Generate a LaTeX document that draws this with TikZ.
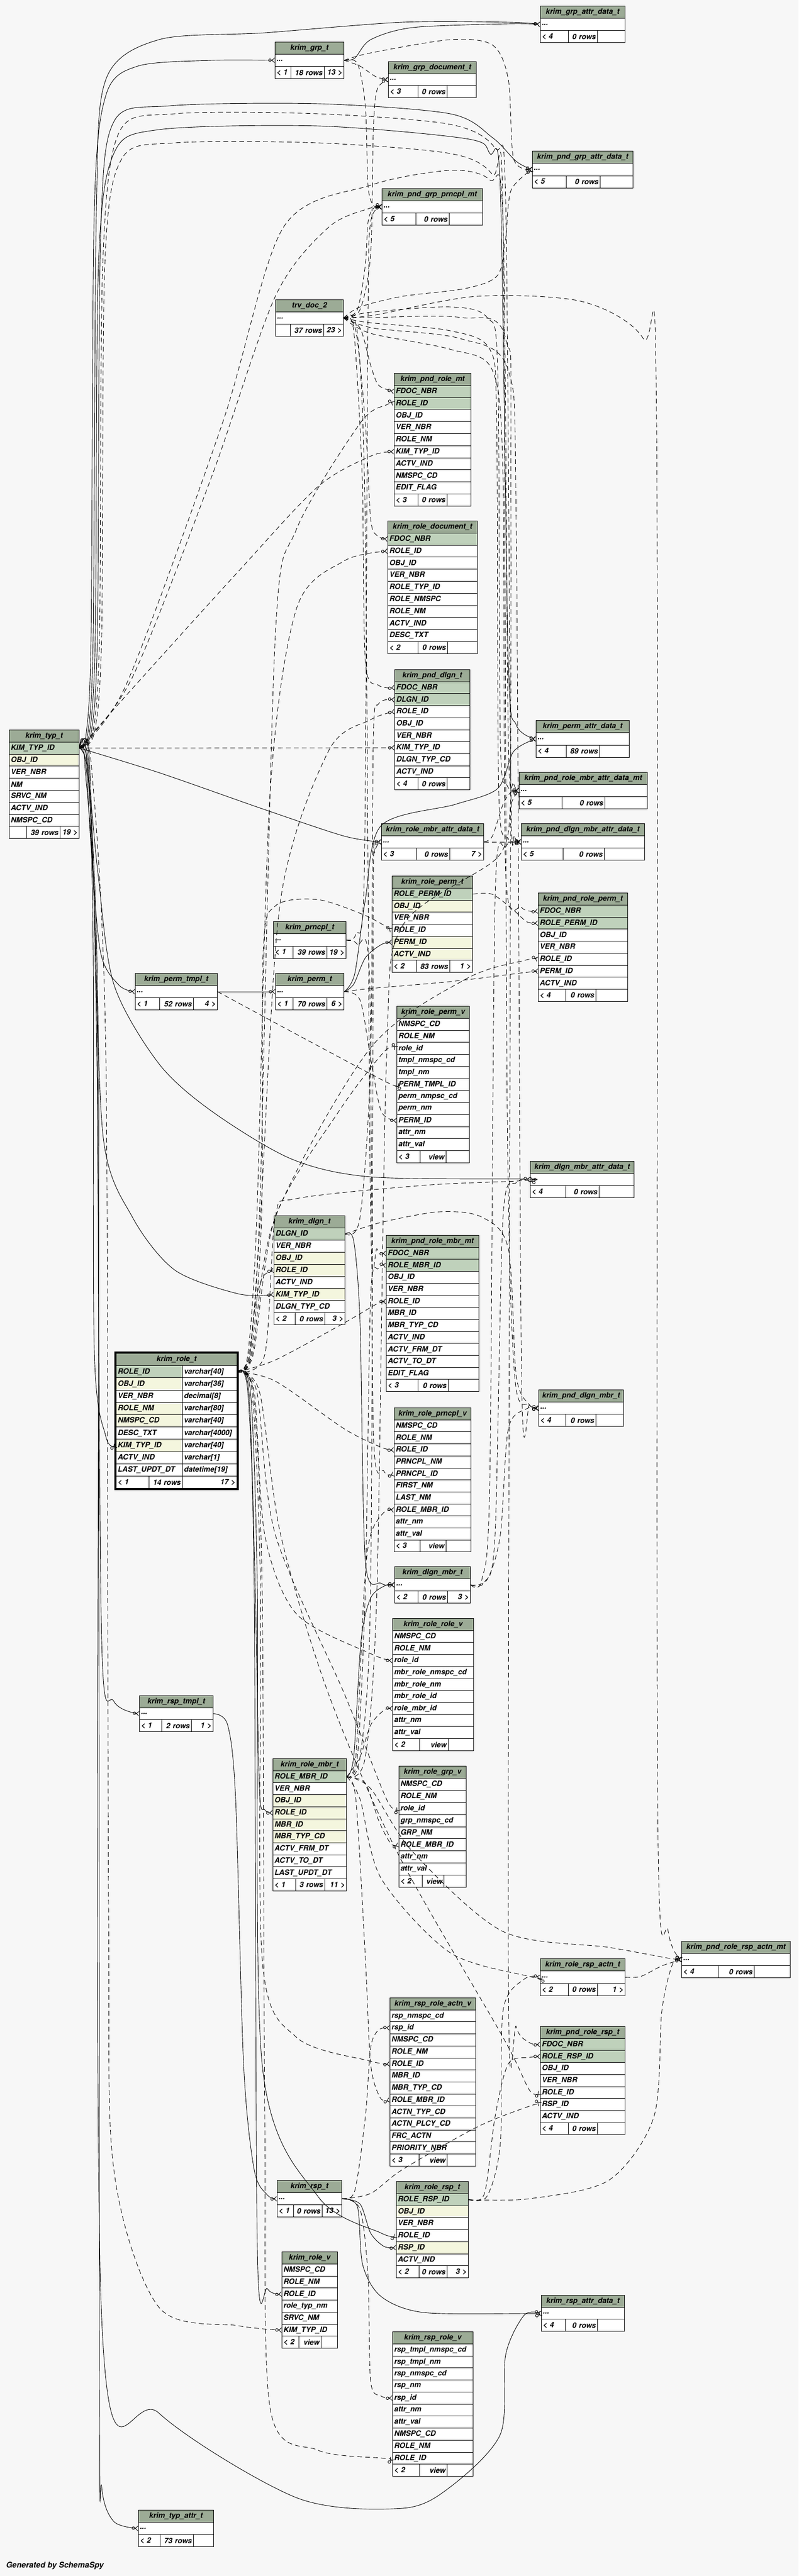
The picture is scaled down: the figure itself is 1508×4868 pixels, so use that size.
\documentclass[tikz,border=0pt]{standalone}
\usepackage{fontspec}
\setmainfont{TeX Gyre Heros}
\usetikzlibrary{arrows.meta,fit}
\hyphenpenalty=10000
\exhyphenpenalty=10000
\definecolor{bgc}{HTML}{F7F7F7}
\definecolor{hdr}{HTML}{9CAB96}
\definecolor{pk}{HTML}{BFD1BB}
\definecolor{ix}{HTML}{F4F6DE}
\colorlet{wh}{white}
\newcommand\ddd{...}
\tikzset{
  tbox/.style={draw=black, line width=1pt, inner xsep=3pt, inner ysep=0pt, anchor=north west},
  hdrbox/.style={tbox, fill=hdr, align=center},
  fk/.style={line width=0.9pt, -{Circle[open,length=6pt,width=6pt,line width=0.9pt]Straight Barb[reversed,length=5pt,width=9pt,line width=0.9pt]}},
  fkd/.style={fk, dash pattern=on 9pt off 6pt},
}
\newcommand\dbt[7]{%
  \def\dbxa{#2}\def\dbxb{#3}\def\dbyt{#4}\def\dbrh{#5}%
  \pgfmathsetmacro\dbtw{#3-#2-6}%
  \node[hdrbox, text width=\dbtw pt, minimum height=#5pt] (#1) at (#2,#4) {\mbox{#6}};
  \foreach \rk/\rt [count=\ri] in {#7} {%
    \pgfmathsetmacro\yy{#4+#5*\ri}%
    \node[tbox, fill=\rk, text width=\dbtw pt, minimum height=#5pt, align=left] (#1-\ri) at (#2,\yy) {\mbox{\rt}};
    \xdef\dbn{\ri}%
  }%
}
\newcommand\dbf[6]{%
  \pgfmathsetmacro\fy{\dbyt+\dbrh*(\dbn+1)}%
  \pgfmathsetmacro\ta{#2-\dbxa-6}%
  \pgfmathsetmacro\tb{#3-#2-6}%
  \pgfmathsetmacro\tc{\dbxb-#3-6}%
  \node[tbox, fill=white, minimum height=\dbrh pt, text width=\ta pt, align=left] (#1-f1) at (\dbxa,\fy) {\mbox{#4}};
  \node[tbox, fill=white, minimum height=\dbrh pt, text width=\tb pt, align=right] (#1-f2) at (#2,\fy) {\mbox{#5}};
  \node[tbox, fill=white, minimum height=\dbrh pt, text width=\tc pt, align=right] (#1-f3) at (#3,\fy) {\mbox{#6}};
}
\newcommand\fe[2][fk]{\draw[#1] plot[smooth,tension=0.5] coordinates {#2};}
\begin{document}
\begin{tikzpicture}[x=1pt,y=-1pt,font=\fontsize{14}{16}\selectfont\bfseries\itshape]
\useasboundingbox (0,0) rectangle (1508,4868);
\fill[bgc] (0,0) rectangle (1508,4868);

% ---------------- tables ----------------
\dbt{grp}{519}{649}{79}{23}{krim\_grp\_t}{wh/\ddd}
\dbf{grp}{549}{612}{< 1}{18 rows}{13 >}
\dbt{grpdoc}{733}{899}{116}{22.7}{krim\_grp\_document\_t}{wh/\ddd}
\dbf{grpdoc}{789}{844}{< 3}{0 rows}{}
\dbt{grpattr}{1020}{1180}{11}{23}{krim\_grp\_attr\_data\_t}{wh/\ddd}
\dbf{grpattr}{1073}{1128}{< 4}{0 rows}{}
\dbt{pgattr}{1005}{1195}{285}{23.3}{krim\_pnd\_grp\_attr\_data\_t}{wh/\ddd}
\dbf{pgattr}{1069}{1133}{< 5}{0 rows}{}
\dbt{pgprn}{721}{911}{356}{23}{krim\_pnd\_grp\_prncpl\_mt}{wh/\ddd}
\dbf{pgprn}{785}{848}{< 5}{0 rows}{}
\dbt{doc}{520}{648}{566}{23}{trv\_doc\_2}{wh/\ddd}
\dbf{doc}{548}{611}{}{37 rows}{23 >}
\dbt{prm}{744}{889}{705}{22.8}{krim\_pnd\_role\_mt}{pk/FDOC\_NBR, pk/ROLE\_ID, wh/OBJ\_ID, wh/VER\_NBR, wh/ROLE\_NM, wh/KIM\_TYP\_ID, wh/ACTV\_IND, wh/NMSPC\_CD, wh/EDIT\_FLAG}
\dbf{prm}{789}{844}{< 3}{0 rows}{}
\dbt{rdoc}{732}{901}{984}{22.8}{krim\_role\_document\_t}{pk/FDOC\_NBR, wh/ROLE\_ID, wh/OBJ\_ID, wh/VER\_NBR, wh/ROLE\_TYP\_ID, wh/ROLE\_NMSPC, wh/ROLE\_NM, wh/ACTV\_IND, wh/DESC\_TXT}
\dbf{rdoc}{789}{845}{< 2}{0 rows}{}
\dbt{pdlgn}{745}{887}{1265}{22.7}{krim\_pnd\_dlgn\_t}{pk/FDOC\_NBR, pk/DLGN\_ID, wh/ROLE\_ID, wh/OBJ\_ID, wh/VER\_NBR, wh/KIM\_TYP\_ID, wh/DLGN\_TYP\_CD, wh/ACTV\_IND}
\dbf{pdlgn}{789}{844}{< 4}{0 rows}{}
\dbt{permattr}{1012}{1188}{1361}{23.3}{krim\_perm\_attr\_data\_t}{wh/\ddd}
\dbf{permattr}{1069}{1132}{< 4}{89 rows}{}
\dbt{prmattr}{980}{1222}{1459}{23}{krim\_pnd\_role\_mbr\_attr\_data\_mt}{wh/\ddd}
\dbf{prmattr}{1061}{1142}{< 5}{0 rows}{}
\dbt{rmattr}{720}{913}{1556}{23}{krim\_role\_mbr\_attr\_data\_t}{wh/\ddd}
\dbf{rmattr}{786}{849}{< 3}{0 rows}{7 >}
\dbt{pdmattr}{984}{1217}{1556}{23}{krim\_pnd\_dlgn\_mbr\_attr\_data\_t}{wh/\ddd}
\dbf{pdmattr}{1063}{1141}{< 5}{0 rows}{}
\dbt{typ}{17}{149}{1379}{22.8}{krim\_typ\_t}{pk/KIM\_TYP\_ID, ix/OBJ\_ID, wh/VER\_NBR, wh/NM, wh/SRVC\_NM, wh/ACTV\_IND, wh/NMSPC\_CD}
\dbf{typ}{50}{113}{}{39 rows}{19 >}
\dbt{rperm}{740}{892}{1655}{22.75}{krim\_role\_perm\_t}{pk/ROLE\_PERM\_ID, ix/OBJ\_ID, wh/VER\_NBR, wh/ROLE\_ID, ix/PERM\_ID, ix/ACTV\_IND}
\dbf{rperm}{786}{849}{< 2}{83 rows}{1 >}
\dbt{prperm}{1016}{1185}{1687}{22.75}{krim\_pnd\_role\_perm\_t}{pk/FDOC\_NBR, pk/ROLE\_PERM\_ID, wh/OBJ\_ID, wh/VER\_NBR, wh/ROLE\_ID, wh/PERM\_ID, wh/ACTV\_IND}
\dbf{prperm}{1068}{1125}{< 4}{0 rows}{}
\dbt{prncpl}{516}{653}{1741}{23.3}{krim\_prncpl\_t}{wh/\ddd}
\dbf{prncpl}{553}{617}{< 1}{39 rows}{19 >}
\dbt{ptmpl}{255}{410}{1839}{23}{krim\_perm\_tmpl\_t}{wh/\ddd}
\dbf{ptmpl}{301}{365}{< 1}{52 rows}{4 >}
\dbt{perm}{520}{649}{1839}{23}{krim\_perm\_t}{wh/\ddd}
\dbf{perm}{553}{617}{< 1}{70 rows}{6 >}
\dbt{rpermv}{749}{886}{1901}{22.75}{krim\_role\_perm\_v}{wh/NMSPC\_CD, wh/ROLE\_NM, wh/role\_id, wh/tmpl\_nmspc\_cd, wh/tmpl\_nm, wh/PERM\_TMPL\_ID, wh/perm\_nmpsc\_cd, wh/perm\_nm, wh/PERM\_ID, wh/attr\_nm, wh/attr\_val}
\dbf{rpermv}{793}{842}{< 3}{view}{}
\dbt{dmattr}{1001}{1197}{2194}{23}{krim\_dlgn\_mbr\_attr\_data\_t}{wh/\ddd}
\dbf{dmattr}{1068}{1131}{< 4}{0 rows}{}
\dbt{dlgn}{517}{651}{2297}{22.9}{krim\_dlgn\_t}{pk/DLGN\_ID, wh/VER\_NBR, ix/OBJ\_ID, ix/ROLE\_ID, wh/ACTV\_IND, ix/KIM\_TYP\_ID, wh/DLGN\_TYP\_CD}
\dbf{dlgn}{557}{613}{< 2}{0 rows}{3 >}
\dbt{prmbr}{729}{904}{2334}{22.7}{krim\_pnd\_role\_mbr\_mt}{pk/FDOC\_NBR, pk/ROLE\_MBR\_ID, wh/OBJ\_ID, wh/VER\_NBR, wh/ROLE\_ID, wh/MBR\_ID, wh/MBR\_TYP\_CD, wh/ACTV\_IND, wh/ACTV\_FRM\_DT, wh/ACTV\_TO\_DT, wh/EDIT\_FLAG}
\dbf{prmbr}{789}{846}{< 3}{0 rows}{}
% krim_role_t (focus table)
\dbt{role}{219}{447}{2557}{23.2}{krim\_role\_t}{pk/ROLE\_ID, ix/OBJ\_ID, wh/VER\_NBR, ix/ROLE\_NM, ix/NMSPC\_CD, wh/DESC\_TXT, ix/KIM\_TYP\_ID, wh/ACTV\_IND, wh/LAST\_UPDT\_DT}
\foreach \ty [count=\ri] in {varchar[40], varchar[36], decimal[8], varchar[80], varchar[40], varchar[4000], varchar[40], varchar[1], datetime[19]} {
  \pgfmathsetmacro\yy{2557+23.2*\ri}
  \node[tbox, fill=white, text width=97pt, minimum height=23.2pt, align=left] (role-t\ri) at (344,\yy) {\mbox{\ty}};
}
\dbf{role}{281}{344}{< 1}{14 rows}{17 >}
\node[draw, line width=3pt, fit=(role)(role-f1)(role-f3), inner sep=1.5pt] (rolebox) {};
\dbt{pdmbr}{1017}{1177}{2626}{23}{krim\_pnd\_dlgn\_mbr\_t}{wh/\ddd}
\dbf{pdmbr}{1068}{1125}{< 4}{0 rows}{}
\dbt{rprnv}{744}{889}{2660}{22.7}{krim\_role\_prncpl\_v}{wh/NMSPC\_CD, wh/ROLE\_NM, wh/ROLE\_ID, wh/PRNCPL\_NM, wh/PRNCPL\_ID, wh/FIRST\_NM, wh/LAST\_NM, wh/ROLE\_MBR\_ID, wh/attr\_nm, wh/attr\_val}
\dbf{rprnv}{793}{842}{< 3}{view}{}
\dbt{dmbr}{745}{888}{2960}{23}{krim\_dlgn\_mbr\_t}{wh/\ddd}
\dbf{dmbr}{789}{845}{< 2}{0 rows}{3 >}
\dbt{rrolev}{741}{894}{3058}{22.7}{krim\_role\_role\_v}{wh/NMSPC\_CD, wh/ROLE\_NM, wh/role\_id, wh/mbr\_role\_nmspc\_cd, wh/mbr\_role\_nm, wh/mbr\_role\_id, wh/role\_mbr\_id, wh/attr\_nm, wh/attr\_val}
\dbf{rrolev}{792}{846}{< 2}{view}{}
\dbt{rsptmpl}{263}{402}{3204}{22.7}{krim\_rsp\_tmpl\_t}{wh/\ddd}
\dbf{rsptmpl}{305}{361}{< 1}{2 rows}{1 >}
\dbt{rmbr}{515}{654}{3323}{22.7}{krim\_role\_mbr\_t}{pk/ROLE\_MBR\_ID, wh/VER\_NBR, ix/OBJ\_ID, ix/ROLE\_ID, ix/MBR\_ID, ix/MBR\_TYP\_CD, wh/ACTV\_FRM\_DT, wh/ACTV\_TO\_DT, wh/LAST\_UPDT\_DT}
\dbf{rmbr}{558}{613}{< 1}{3 rows}{11 >}
\dbt{rgrpv}{753}{880}{3337}{22.9}{krim\_role\_grp\_v}{wh/NMSPC\_CD, wh/ROLE\_NM, wh/role\_id, wh/grp\_nmspc\_cd, wh/GRP\_NM, wh/ROLE\_MBR\_ID, wh/attr\_nm, wh/attr\_val}
\dbf{rgrpv}{797}{838}{< 2}{view}{}
\dbt{prractn}{1287}{1492}{3668}{23}{krim\_pnd\_role\_rsp\_actn\_mt}{wh/\ddd}
\dbf{prractn}{1356}{1424}{< 4}{0 rows}{}
\dbt{rractn}{1020}{1180}{3701}{23.3}{krim\_role\_rsp\_actn\_t}{wh/\ddd}
\dbf{rractn}{1073}{1128}{< 2}{0 rows}{1 >}
\dbt{rraview}{736}{898}{3775}{22.7}{krim\_rsp\_role\_actn\_v}{wh/rsp\_nmspc\_cd, wh/rsp\_id, wh/NMSPC\_CD, wh/ROLE\_NM, wh/ROLE\_ID, wh/MBR\_ID, wh/MBR\_TYP\_CD, wh/ROLE\_MBR\_ID, wh/ACTN\_TYP\_CD, wh/ACTN\_PLCY\_CD, wh/FRC\_ACTN, wh/PRIORITY\_NBR}
\dbf{rraview}{791}{844}{< 3}{view}{}
\dbt{prrsp}{1020}{1180}{3829}{22.7}{krim\_pnd\_role\_rsp\_t}{pk/FDOC\_NBR, pk/ROLE\_RSP\_ID, wh/OBJ\_ID, wh/VER\_NBR, wh/ROLE\_ID, wh/RSP\_ID, wh/ACTV\_IND}
\dbf{prrsp}{1073}{1128}{< 4}{0 rows}{}
\dbt{rsp}{523}{645}{4120}{23}{krim\_rsp\_t}{wh/\ddd}
\dbf{rsp}{554}{608}{< 1}{0 rows}{13 >}
\dbt{rrsp}{748}{884}{4122}{22.75}{krim\_role\_rsp\_t}{pk/ROLE\_RSP\_ID, ix/OBJ\_ID, wh/VER\_NBR, wh/ROLE\_ID, ix/RSP\_ID, wh/ACTV\_IND}
\dbf{rrsp}{791}{844}{< 2}{0 rows}{3 >}
\dbt{rolev}{532}{637}{4255}{22.75}{krim\_role\_v}{wh/NMSPC\_CD, wh/ROLE\_NM, wh/ROLE\_ID, wh/role\_typ\_nm, wh/SRVC\_NM, wh/KIM\_TYP\_ID}
\dbf{rolev}{564}{606}{< 2}{view}{}
\dbt{rspattr}{1022}{1179}{4337}{22.7}{krim\_rsp\_attr\_data\_t}{wh/\ddd}
\dbf{rspattr}{1067}{1128}{< 4}{0 rows}{}
\dbt{rsprolev}{741}{893}{4406}{22.75}{krim\_rsp\_role\_v}{wh/rsp\_tmpl\_nmspc\_cd, wh/rsp\_tmpl\_nm, wh/rsp\_nmspc\_cd, wh/rsp\_nm, wh/rsp\_id, wh/attr\_nm, wh/attr\_val, wh/NMSPC\_CD, wh/ROLE\_NM, wh/ROLE\_ID}
\dbf{rsprolev}{792}{844}{< 2}{view}{}
\dbt{typattr}{261}{403}{4743}{23}{krim\_typ\_attr\_t}{wh/\ddd}
\dbf{typattr}{302}{365}{< 2}{73 rows}{}

\node[anchor=west, font=\fontsize{15}{17}\selectfont\bfseries\itshape] (gen) at (8,4849) {Generated by SchemaSpy};

% ---------------- connectors ----------------
% krim_typ_t
\fe{(typ-1.east) (163,1385) (172,1200) (178,400) (200,180) (260,125) (400,114) (grp-1.west)}
\fe{(typ-1.east) (166,1385) (176,1200) (182,400) (200,150) (300,75) (500,62) (760,42) (960,42) (grpattr-1.west)}
\fe{(typ-1.east) (169,1385) (180,1200) (186,500) (215,290) (300,245) (600,238) (880,262) (925,290) (945,360) (960,1250) (975,1370) (permattr-1.west)}
\fe{(typ-1.east) (172,1385) (184,1200) (190,450) (215,230) (320,200) (600,196) (850,215) (930,260) (975,305) (pgattr-1.west)}
\fe[fkd]{(typ-1.east) (175,1385) (188,1200) (194,500) (225,250) (330,215) (600,215) (850,235) (935,280) (955,380) (965,1500) (972,1580) (pdmattr-1.west)}
\fe[fkd]{(typ-1.east) (178,1385) (192,1200) (198,500) (230,300) (330,270) (600,270) (850,290) (930,330) (950,420) (958,2100) (972,2600) (1000,2655) (pdmbr-1.west)}
\fe[fkd]{(typ-1.east) (260,1290) (450,1080) (600,920) (700,862) (prm-6.west)}
\fe[fkd]{(typ-1.east) (250,1280) (400,900) (520,560) (620,430) (700,393) (pgprn-1.west)}
\fe[fkd]{(typ-1.east) (240,1290) (420,800) (535,430) (700,350) (850,322) (925,340) (950,420) (960,1400) (970,1480) (prmattr-1.west)}
\draw[fkd] (typ-1.east) -- (pdlgn-6.west);
\fe{(typ-1.east) (300,1460) (500,1530) (650,1580) (rmattr-1.west)}
\fe{(typ-1.east) (165,1450) (185,1650) (215,1860) (300,2010) (400,2100) (550,2190) (700,2224) (990,2228) (dmattr-1.west)}
\fe{(typ-1.east) (162,1440) (172,1600) (190,1800) (225,1862) (ptmpl-1.west)}
\fe{(typ-1.east) (165,1440) (178,1700) (195,2150) (250,2300) (330,2400) (450,2445) (dlgn-6.west)}
\fe{(typ-1.east) (167,1440) (176,1800) (178,2550) (200,2715) (role-7.west)}
\fe{(typ-1.east) (169,1440) (183,2000) (192,3100) (215,3215) (rsptmpl-1.west)}
\fe[fkd]{(typ-1.east) (172,1440) (200,2000) (205,3600) (215,4100) (300,4360) (450,4395) (rolev-6.west)}
\fe{(typ-1.east) (164,1440) (186,2000) (192,4380) (300,4560) (560,4720) (760,4740) (850,4700) (945,4600) (955,4450) (990,4375) (rspattr-1.west)}
\fe{(typ-1.east) (160,1440) (184,2000) (188,4500) (192,4700) (215,4765) (typattr-1.west)}

% trv_doc_2
\fe[fkd]{(doc-1.east) (680,585) (700,480) (705,250) (712,170) (grpdoc-1.west)}
\fe[fkd]{(doc-1.east) (675,585) (690,500) (695,420) (705,394) (pgprn-1.west)}
\fe[fkd]{(doc-1.east) (680,580) (760,560) (880,545) (940,520) (955,450) (965,360) (pgattr-1.west)}
\fe[fkd]{(doc-1.east) (680,620) (700,690) (715,728) (prm-1.west)}
\fe[fkd]{(doc-1.east) (672,625) (690,800) (700,980) (712,1012) (rdoc-1.west)}
\fe[fkd]{(doc-1.east) (668,625) (684,900) (690,1250) (715,1295) (pdlgn-1.west)}
\fe[fkd]{(doc-1.east) (700,590) (850,580) (920,600) (940,700) (945,1400) (958,1485) (prmattr-1.west)}
\fe[fkd]{(doc-1.east) (700,610) (850,625) (925,660) (938,800) (942,1500) (960,1585) (pdmattr-1.west)}
\fe[fkd]{(doc-1.east) (700,630) (850,660) (930,700) (950,900) (955,1650) (985,1715) (prperm-1.west)}
\fe[fkd]{(doc-1.east) (675,630) (690,1000) (700,2300) (712,2360) (prmbr-1.west)}
\fe[fkd]{(doc-1.east) (705,620) (870,640) (960,700) (975,1000) (985,2600) (1000,2655) (pdmbr-1.west)}
\fe[fkd]{(doc-1.east) (705,600) (870,600) (955,640) (965,1000) (960,3700) (975,3830) (1000,3860) (prrsp-1.west)}
\fe[fkd]{(doc-1.east) (710,595) (900,560) (1100,570) (1215,640) (1240,800) (1242,3400) (1262,3650) (prractn-1.west)}

% krim_role_t
\fe[fkd]{(role-1.east) (470,2560) (490,2300) (520,1200) (560,1000) (680,800) (730,765) (prm-2.west)}
\fe[fkd]{(role-1.east) (468,2560) (485,2300) (510,1500) (560,1150) (650,1060) (rdoc-2.west)}
\fe[fkd]{(role-1.east) (472,2560) (492,2300) (530,1700) (620,1420) (700,1360) (pdlgn-3.west)}
\fe[fkd]{(role-1.east) (474,2560) (494,2300) (497,1800) (520,1712) (600,1700) (690,1730) (rperm-4.west)}
\fe[fkd]{(role-1.east) (476,2560) (520,2300) (700,1980) (880,1850) (990,1815) (prperm-5.west)}
\fe[fkd]{(role-1.east) (478,2560) (520,2300) (640,2100) (725,1988) (rpermv-3.west)}
\fe[fkd]{(role-1.east) (470,2570) (480,2480) (495,2415) (dlgn-4.west)}
\fe[fkd]{(role-1.east) (520,2570) (650,2500) (710,2465) (prmbr-5.west)}
\fe[fkd]{(role-1.east) (520,2610) (650,2700) (720,2735) (rprnv-3.west)}
\fe[fkd]{(role-1.east) (480,2630) (500,2900) (560,3050) (700,3125) (rrolev-3.west)}
\fe{(role-1.east) (470,2630) (482,3000) (490,3380) (500,3420) (rmbr-4.west)}
\fe[fkd]{(role-1.east) (485,2630) (520,2900) (650,3200) (730,3400) (rgrpv-3.west)}
\fe[fkd]{(role-1.east) (476,2630) (492,3000) (495,3700) (560,3850) (700,3895) (rraview-5.west)}
\fe[fkd]{(role-1.east) (490,2630) (530,2900) (620,3200) (750,3500) (950,3850) (1000,3950) (prrsp-5.west)}
\fe{(role-1.east) (473,2630) (486,3000) (495,3900) (600,4150) (720,4220) (rrsp-4.west)}
\fe{(role-1.east) (468,2630) (480,3000) (486,4250) (505,4325) (rolev-3.west)}
\fe[fkd]{(role-1.east) (478,2630) (495,3000) (500,4000) (510,4550) (600,4630) (720,4645) (rsprolev-10.west)}
\fe[fkd]{(role-1.east) (500,2560) (520,2300) (560,2265) (800,2240) (975,2232) (dmattr-1.west)}

% krim_role_mbr_t
\fe[fkd]{(rmbr-1.east) (680,3320) (700,3000) (705,1700) (708,1610) (rmattr-1.west)}
\fe[fkd]{(rmbr-1.east) (690,3320) (712,3000) (730,2000) (760,1750) (940,1620) (965,1520) (prmattr-1.west)}
\fe[fkd]{(rmbr-1.east) (675,3320) (690,3000) (700,2450) (715,2397) (prmbr-2.west)}
\fe[fkd]{(rmbr-1.east) (672,3320) (688,3000) (700,2900) (725,2858) (rprnv-8.west)}
\fe{(rmbr-1.east) (668,3320) (682,3100) (700,3020) (728,2996) (dmbr-1.west)}
\fe[fkd]{(rmbr-1.east) (680,3320) (700,3260) (725,3232) (rrolev-7.west)}
\fe[fkd]{(rmbr-1.east) (690,3370) (715,3440) (738,3484) (rgrpv-6.west)}
\fe[fkd]{(rmbr-1.east) (680,3400) (720,3550) (850,3690) (1000,3735) (rractn-1.west)}
\fe[fkd]{(rmbr-1.east) (672,3400) (690,3700) (700,3900) (718,3964) (rraview-8.west)}
\fe[fkd]{(rmbr-1.east) (700,3380) (780,3500) (950,3650) (1150,3680) (1260,3700) (prractn-1.west)}

% krim_perm_t, krim_perm_tmpl_t, krim_prncpl_t
\fe{(perm-1.east) (670,1840) (690,1700) (720,1560) (860,1520) (940,1490) (970,1420) (permattr-1.west)}
\fe{(perm-1.east) (668,1860) (690,1810) (720,1785) (rperm-5.west)}
\fe[fkd]{(perm-1.east) (700,1868) (850,1855) (990,1838) (prperm-6.west)}
\fe[fkd]{(perm-1.east) (680,1890) (700,2000) (720,2100) (rpermv-9.west)}
\draw[fk] (ptmpl-1.east) -- (perm-1.west);
\fe[fkd]{(ptmpl-1.east) (570,1960) (730,2045) (rpermv-6.west)}
\fe[fkd]{(prncpl-1.east) (675,1785) (698,1850) (705,2700) (725,2780) (rprnv-5.west)}
\fe[fkd]{(prncpl-1.east) (672,1765) (688,1650) (695,600) (700,420) (pgprn-1.west)}

% krim_grp_t
\fe{(grp-1.east) (670,110) (700,75) (780,52) (960,45) (grpattr-1.west)}
\fe[fkd]{(grp-1.east) (680,125) (710,145) (grpdoc-1.west)}
\fe[fkd]{(grp-1.east) (675,120) (690,200) (695,350) (705,388) (pgprn-1.west)}
\fe[fkd]{(grp-1.east) (700,100) (850,75) (930,85) (960,150) (970,300) (pgattr-1.west)}

% krim_dlgn_t, krim_dlgn_mbr_t
\fe[fkd]{(dlgn-1.east) (680,2300) (700,2000) (705,1400) (715,1330) (pdlgn-2.west)}
\fe{(dlgn-1.east) (668,2345) (680,2500) (690,2950) (720,2992) (dmbr-1.west)}
\fe[fkd]{(dlgn-1.east) (720,2310) (830,2290) (910,2300) (960,2360) (975,2600) (1000,2655) (pdmbr-1.west)}
\fe[fkd]{(dmbr-1.east) (915,2990) (935,2900) (950,2300) (975,2235) (dmattr-1.west)}
\fe[fkd]{(dmbr-1.east) (920,2985) (945,2900) (960,2700) (995,2662) (pdmbr-1.west)}
\fe[fkd]{(dmbr-1.east) (910,2985) (925,2800) (935,1700) (955,1600) (pdmattr-1.west)}

% others
\fe[fkd]{(rperm-1.east) (930,1690) (970,1720) (995,1742) (prperm-2.west)}
\fe[fkd]{(rrsp-1.east) (920,4150) (945,4050) (950,3800) (990,3740) (rractn-1.west)}
\fe[fkd]{(rrsp-1.east) (915,4145) (935,4000) (960,3900) (1000,3888) (prrsp-2.west)}
\fe[fkd]{(rrsp-1.east) (1000,4155) (1150,4120) (1235,4000) (1250,3800) (1270,3712) (prractn-1.west)}
\fe{(rsp-1.east) (680,4165) (700,4220) (725,4245) (rrsp-5.west)}
\fe{(rsp-1.east) (675,4170) (685,4280) (720,4340) (800,4370) (990,4372) (rspattr-1.west)}
\fe[fkd]{(rsp-1.east) (670,4140) (690,4000) (700,3870) (715,3836) (rraview-2.west)}
\fe[fkd]{(rsp-1.east) (680,4175) (695,4300) (700,4500) (720,4528) (rsprolev-5.west)}
\fe[fkd]{(rsp-1.east) (700,4145) (760,4100) (900,4020) (1000,3980) (prrsp-6.west)}
\fe{(rsptmpl-1.east) (430,3260) (445,3400) (460,3900) (480,4100) (505,4148) (rsp-1.west)}
\draw[fkd] (rmattr-1.east) -- (pdmattr-1.west);
\fe[fkd]{(rmattr-1.east) (930,1580) (950,1520) (965,1497) (prmattr-1.west)}
\fe[fkd]{(rractn-1.east) (1210,3735) (1250,3715) (prractn-1.west)}
\end{tikzpicture}
\end{document}
